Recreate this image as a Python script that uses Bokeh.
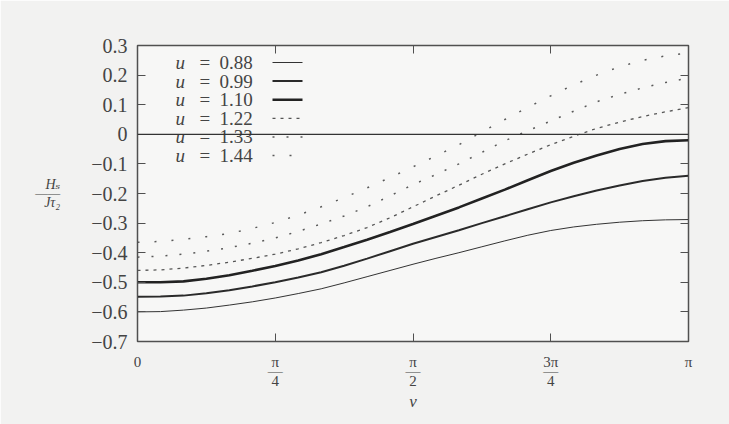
import math
from bokeh.plotting import figure
from bokeh.models import Range1d, LinearAxis, FixedTicker, Span
from bokeh.core.properties import value
from bokeh.embed import file_html
from bokeh.resources import INLINE

# ---------------- data ----------------
v = [0.0000, 0.1309, 0.2618, 0.3927, 0.5236, 0.6545, 0.7854, 0.9163, 1.0472,
     1.1781, 1.3090, 1.4399, 1.5708, 1.7017, 1.8326, 1.9635, 2.0944, 2.2253,
     2.3562, 2.4871, 2.6180, 2.7489, 2.8798, 3.0107, 3.1416]

h_088 = [-0.600, -0.599, -0.594, -0.587, -0.577, -0.566, -0.553, -0.538, -0.522,
         -0.502, -0.481, -0.460, -0.439, -0.419, -0.400, -0.380, -0.360, -0.341,
         -0.325, -0.313, -0.304, -0.297, -0.292, -0.289, -0.288]
h_099 = [-0.549, -0.548, -0.545, -0.537, -0.527, -0.514, -0.500, -0.484, -0.466,
         -0.444, -0.420, -0.395, -0.370, -0.347, -0.324, -0.300, -0.277, -0.253,
         -0.230, -0.209, -0.190, -0.173, -0.158, -0.147, -0.140]
h_110 = [-0.500, -0.500, -0.497, -0.488, -0.476, -0.461, -0.445, -0.426, -0.405,
         -0.381, -0.356, -0.330, -0.303, -0.275, -0.247, -0.217, -0.187, -0.155,
         -0.124, -0.096, -0.072, -0.050, -0.033, -0.023, -0.020]
h_122 = [-0.460, -0.458, -0.452, -0.443, -0.432, -0.419, -0.405, -0.387, -0.366,
         -0.342, -0.315, -0.282, -0.245, -0.208, -0.172, -0.135, -0.100, -0.067,
         -0.035, -0.007, 0.020, 0.041, 0.060, 0.076, 0.090]
h_133 = [-0.415, -0.412, -0.405, -0.395, -0.383, -0.368, -0.350, -0.328, -0.303,
         -0.276, -0.245, -0.208, -0.170, -0.136, -0.100, -0.061, -0.022, 0.012,
         0.045, 0.078, 0.110, 0.135, 0.157, 0.175, 0.190]
h_144 = [-0.365, -0.362, -0.355, -0.346, -0.335, -0.318, -0.298, -0.273, -0.245,
         -0.214, -0.181, -0.146, -0.110, -0.073, -0.035, 0.008, 0.050, 0.091,
         0.130, 0.167, 0.200, 0.228, 0.250, 0.265, 0.275]

series_u = ["0.88", "0.99", "1.10", "1.22", "1.33", "1.44"]
series_h = [h_088, h_099, h_110, h_122, h_133, h_144]

x_ticks = [0.0, math.pi / 4, math.pi / 2, 3 * math.pi / 4, math.pi]
x_tick_labels = ["0", "π\n—\n4", "π\n—\n2", "3π\n—\n4", "π"]
y_ticks = [-0.7, -0.6, -0.5, -0.4, -0.3, -0.2, -0.1, 0.0, 0.1, 0.2, 0.3]
y_tick_labels = ["−0.7", "−0.6", "−0.5", "−0.4", "−0.3", "−0.2", "−0.1", "0", "0.1", "0.2", "0.3"]
x_label = "v"
y_label = "Hₛ\n——\nJτ₂"

# ---------------- styles ----------------
styles = [
    dict(line_width=1.0, line_dash="solid", line_color="#333333"),
    dict(line_width=2.0, line_dash="solid", line_color="#2a2a2a"),
    dict(line_width=2.6, line_dash="solid", line_color="#222222"),
    dict(line_width=1.3, line_dash="3 5", line_color="#555555"),
    dict(line_width=1.5, line_dash="2 12", line_color="#5a5a5a"),
    dict(line_width=1.5, line_dash="2 15", line_color="#5a5a5a"),
]

W, H = 729, 424
FL, FT, FW, FH = 137, 45, 551, 296   # frame left/top/width/height in px
XMIN, XMAX, YMIN, YMAX = 0.0, math.pi, -0.7, 0.3

def px_x(px):
    return XMIN + (px - FL) / FW * (XMAX - XMIN)

def px_y(py):
    return YMAX - (py - FT) / FH * (YMAX - YMIN)

FONT = "'Liberation Serif', 'DejaVu Serif', serif"
TXT = "#444444"
FRAME = "#505050"

p = figure(width=W, height=H, x_range=Range1d(XMIN, XMAX), y_range=Range1d(YMIN, YMAX),
           output_backend="svg", toolbar_location=None,
           min_border_left=FL, min_border_right=W - FL - FW,
           min_border_top=FT, min_border_bottom=H - FT - FH)
p.background_fill_color = "#f7f7f6"
p.border_fill_color = "#f2f2f1"
p.outline_line_color = FRAME
p.outline_line_width = 1.5
p.grid.visible = False

# bottom axis
xa = p.xaxis[0]
xa.ticker = FixedTicker(ticks=x_ticks)
xa.major_label_overrides = dict(zip(x_ticks, x_tick_labels))
xa.major_tick_in = 8
xa.major_tick_out = 0
xa.minor_tick_line_color = None
xa.axis_line_color = FRAME
xa.major_tick_line_color = FRAME
xa.major_label_text_font = FONT
xa.major_label_text_font_size = "15px"
xa.major_label_text_line_height = 0.62
xa.major_label_text_color = TXT
xa.major_label_standoff = 12
xa.axis_label = x_label
xa.axis_label_text_font = FONT
xa.axis_label_text_font_style = "italic"
xa.axis_label_text_font_size = "17px"
xa.axis_label_text_color = TXT
xa.axis_label_standoff = 0

# left axis
ya = p.yaxis[0]
ya.ticker = FixedTicker(ticks=y_ticks)
ya.major_label_overrides = dict(zip(y_ticks, y_tick_labels))
ya.major_tick_in = 8
ya.major_tick_out = 0
ya.minor_tick_line_color = None
ya.axis_line_color = FRAME
ya.major_tick_line_color = FRAME
ya.major_label_text_font = FONT
ya.major_label_text_font_size = "20px"
ya.major_label_text_color = TXT
ya.major_label_standoff = 10
ya.axis_label = y_label
ya.axis_label_orientation = "horizontal"
ya.axis_label_text_font = FONT
ya.axis_label_text_font_style = "italic"
ya.axis_label_text_font_size = "14px"
ya.axis_label_text_line_height = 0.62
ya.axis_label_text_color = TXT
ya.axis_label_standoff = 28

# mirrored ticks (right and top)
ra = LinearAxis(ticker=FixedTicker(ticks=y_ticks), major_tick_in=8, major_tick_out=0,
                minor_tick_line_color=None, axis_line_color=FRAME, major_tick_line_color=FRAME,
                major_label_text_font_size="0px")
ra.major_label_overrides = {t: "" for t in y_ticks}
p.add_layout(ra, "right")
ta = LinearAxis(ticker=FixedTicker(ticks=x_ticks[1:-1]), major_tick_in=8, major_tick_out=0,
                minor_tick_line_color=None, axis_line_color=FRAME, major_tick_line_color=FRAME,
                major_label_text_font_size="0px")
ta.major_label_overrides = {t: "" for t in x_ticks[1:-1]}
p.add_layout(ta, "above")

# zero axis line
p.add_layout(Span(location=0, dimension="width", line_color="#333333", line_width=1.2))

# curves
for u, h, st in zip(series_u, series_h, styles):
    p.line(v, h, **st)

# legend (text left, sample on the right)
LEG_TOP, LEG_STEP = 62, 18.6
for i, (u, st) in enumerate(zip(series_u, styles)):
    yy = px_y(LEG_TOP + i * LEG_STEP)
    p.text(x=[px_x(175)], y=[yy], text=["u"], text_font=value(FONT), text_font_style="italic",
           text_font_size="19px", text_color=TXT, text_baseline="middle", text_align="left")
    p.text(x=[px_x(199)], y=[yy], text=["="], text_font=value(FONT),
           text_font_size="19px", text_color=TXT, text_baseline="middle", text_align="left")
    p.text(x=[px_x(219)], y=[yy], text=[u], text_font=value(FONT),
           text_font_size="19px", text_color=TXT, text_baseline="middle", text_align="left")
    p.line([px_x(272), px_x(302)], [yy, yy], **st)

open("out.html", "w").write(file_html(p, INLINE))
